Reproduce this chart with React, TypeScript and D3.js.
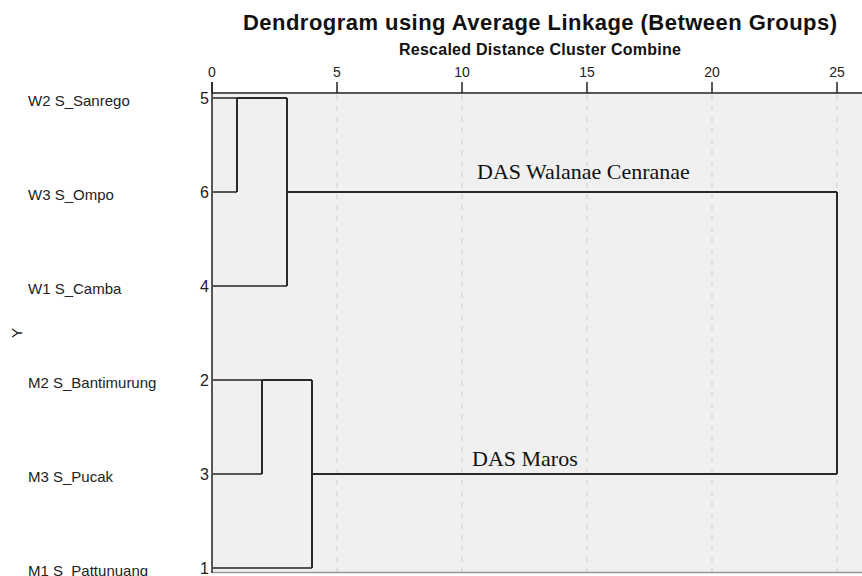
import { useEffect, useRef } from "react";
import * as d3 from "d3";

const leafNames = ["W2 S_Sanrego", "W3 S_Ompo", "W1 S_Camba", "M2 S_Bantimurung", "M3 S_Pucak", "M1 S_Pattunuang"];
const caseNumbers = [5, 6, 4, 2, 3, 1];
const xTicks = [0, 5, 10, 15, 20, 25];

// each merge: children (leaf "L#" or node "N#"), rescaled distance, row it hangs from
const merges = [
  { id: "N0", a: "L0", b: "L1", dist: 1, row: 0 },
  { id: "N1", a: "L3", b: "L4", dist: 2, row: 3 },
  { id: "N2", a: "N0", b: "L2", dist: 3, row: 1 },
  { id: "N3", a: "N1", b: "L5", dist: 4, row: 4 },
  { id: "N4", a: "N2", b: "N3", dist: 25, row: 2.5 },
];

const groupLabels = [
  { text: "DAS Walanae Cenranae", at: 10.6, row: 1, lift: 13 },
  { text: "DAS Maros", at: 10.4, row: 4, lift: 8 },
];

function draw(el: SVGSVGElement) {
  const w = 862,
    h = 576;
  const svg = d3.select(el);
  svg.selectAll("*").remove();
  svg.attr("width", w).attr("height", h).style("display", "block");

  const left = 212,
    right = 862,
    top = 93,
    bottom = 573;
  const x = d3.scaleLinear().domain([0, 25]).range([left, 837]);
  const y = d3.scaleLinear().domain([0, 5]).range([98, 568]);
  const sans = "Arial, 'Liberation Sans', sans-serif";

  svg.append("rect").attr("width", w).attr("height", h).attr("fill", "#fff");
  svg
    .append("rect")
    .attr("x", left)
    .attr("y", top)
    .attr("width", right - left)
    .attr("height", bottom - top)
    .attr("fill", "#f0f0f0");

  // dashed grid
  svg
    .selectAll(".grid")
    .data(xTicks.filter((d) => d > 0))
    .join("line")
    .attr("x1", (d) => x(d))
    .attr("x2", (d) => x(d))
    .attr("y1", top + 2)
    .attr("y2", bottom)
    .attr("stroke", "#d4d4d4")
    .attr("stroke-width", 1.2)
    .attr("stroke-dasharray", "5,6");

  svg.append("line").attr("x1", left).attr("x2", right).attr("y1", bottom - 0.5).attr("y2", bottom - 0.5).attr("stroke", "#999").attr("stroke-width", 1.5);

  // top axis
  svg.append("line").attr("x1", left).attr("x2", right).attr("y1", top).attr("y2", top).attr("stroke", "#222").attr("stroke-width", 1.5);
  svg.append("line").attr("x1", left).attr("x2", left).attr("y1", 82).attr("y2", bottom).attr("stroke", "#222").attr("stroke-width", 1.5);
  svg
    .selectAll(".tick")
    .data(xTicks)
    .join("line")
    .attr("x1", (d) => x(d))
    .attr("x2", (d) => x(d))
    .attr("y1", 82)
    .attr("y2", top)
    .attr("stroke", "#222")
    .attr("stroke-width", 1.5);
  svg
    .selectAll(".ticklabel")
    .data(xTicks)
    .join("text")
    .attr("x", (d) => x(d))
    .attr("y", 77)
    .attr("text-anchor", "middle")
    .attr("font-family", sans)
    .attr("font-size", 14)
    .attr("fill", "#222")
    .text((d) => d);

  // titles
  svg
    .append("text")
    .attr("x", 540)
    .attr("y", 30)
    .attr("text-anchor", "middle")
    .attr("font-family", sans)
    .attr("font-size", 22)
    .attr("font-weight", "bold")
    .attr("textLength", 594)
    .attr("lengthAdjust", "spacing")
    .attr("fill", "#111")
    .text("Dendrogram using Average Linkage (Between Groups)");
  svg
    .append("text")
    .attr("x", 540)
    .attr("y", 55)
    .attr("text-anchor", "middle")
    .attr("font-family", sans)
    .attr("font-size", 16)
    .attr("font-weight", "bold")
    .attr("textLength", 282)
    .attr("lengthAdjust", "spacing")
    .attr("fill", "#111")
    .text("Rescaled Distance Cluster Combine");

  // row labels
  svg
    .selectAll(".name")
    .data(leafNames)
    .join("text")
    .attr("x", 28)
    .attr("y", (_, i) => y(i) + 8)
    .attr("font-family", sans)
    .attr("font-size", 15)
    .attr("fill", "#222")
    .text((d) => d);
  svg
    .selectAll(".case")
    .data(caseNumbers)
    .join("text")
    .attr("x", 209)
    .attr("y", (_, i) => y(i) + 6)
    .attr("text-anchor", "end")
    .attr("font-family", sans)
    .attr("font-size", 16)
    .attr("fill", "#222")
    .text((d) => d);
  svg
    .append("text")
    .attr("transform", "translate(22,333) rotate(-90)")
    .attr("text-anchor", "middle")
    .attr("font-family", sans)
    .attr("font-size", 15)
    .attr("fill", "#222")
    .text("Y");

  // dendrogram links
  const pos: Record<string, { row: number; dist: number }> = {};
  leafNames.forEach((_, i) => (pos["L" + i] = { row: i, dist: 0 }));
  const g = svg.append("g").attr("fill", "none").attr("stroke", "#2a2a2a").attr("stroke-width", 2);
  merges.forEach((m) => {
    const ca = pos[m.a],
      cb = pos[m.b];
    [ca, cb].forEach((c) => {
      g.append("line")
        .attr("x1", x(c.dist))
        .attr("x2", x(m.dist))
        .attr("y1", y(c.row))
        .attr("y2", y(c.row))
        .attr("stroke", c.dist === 0 ? "#555" : "#2a2a2a");
    });
    g.append("line").attr("x1", x(m.dist)).attr("x2", x(m.dist)).attr("y1", y(ca.row)).attr("y2", y(cb.row));
    pos[m.id] = { row: m.row, dist: m.dist };
  });

  svg
    .selectAll(".group")
    .data(groupLabels)
    .join("text")
    .attr("x", (d) => x(d.at))
    .attr("y", (d) => y(d.row) - d.lift)
    .attr("font-family", "'Liberation Serif', 'Times New Roman', serif")
    .attr("font-size", 22)
    .attr("fill", "#111")
    .text((d) => d.text);
}

export default function App() {
  const ref = useRef<SVGSVGElement>(null);
  useEffect(() => {
    if (ref.current) draw(ref.current);
  }, []);
  return (
    <div style={{ position: "fixed", left: 0, top: 0 }}>
      <svg ref={ref} />
    </div>
  );
}
